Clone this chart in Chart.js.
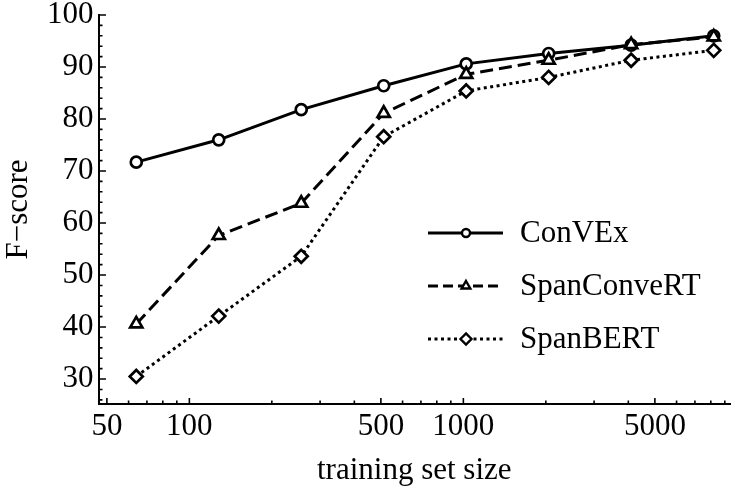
<!DOCTYPE html>
<html>
<head>
<meta charset="utf-8">
<title>F-score vs training set size</title>
<script src="https://cdn.jsdelivr.net/npm/chart.js@4"></script>
<style>
  html, body { margin: 0; padding: 0; background: #fff; }
  #wrap { width: 731px; height: 489px; }
</style>
</head>
<body>
<div id="wrap"><canvas id="fscoreChart" width="731" height="489"></canvas></div>
<script>
// Data
const trainSizes = [64, 128, 256, 512, 1024, 2048, 4096, 8198];
const convexScores = [71.7, 76.0, 81.8, 86.4, 90.6, 92.6, 94.2, 96.0];
const spanConvertScores = [40.6, 57.6, 63.8, 81.1, 88.6, 91.3, 94.3, 95.8];
const spanBertScores = [30.5, 42.1, 53.6, 76.6, 85.4, 88.0, 91.3, 93.2];

const seriesNames = ['ConVEx', 'SpanConveRT', 'SpanBERT'];

// Axis ticks
const xMajorTicks = [50, 100, 500, 1000, 5000];
const xMinorTicks = [60, 70, 80, 90, 200, 300, 400, 600, 700, 800, 900,
  2000, 3000, 4000, 6000, 7000, 8000, 9000];
const yMajorTicks = [30, 40, 50, 60, 70, 80, 90, 100];
const yMinorTicks = [26, 28, 32, 34, 36, 38, 42, 44, 46, 48, 52, 54, 56, 58,
  62, 64, 66, 68, 72, 74, 76, 78, 82, 84, 86, 88, 92, 94, 96, 98];

const FONT = "'Liberation Serif', 'DejaVu Serif', serif";
const INK = '#000';

function toPoints(values) {
  return trainSizes.map((x, i) => ({ x: x, y: values[i] }));
}

// Inward ticks (Mathematica style) drawn from the chart scales
const inwardTicks = {
  id: 'inwardTicks',
  afterDraw(chart) {
    const ctx = chart.ctx;
    const xs = chart.scales.x;
    const ys = chart.scales.y;
    const left = chart.chartArea.left;
    const bottom = chart.chartArea.bottom;
    ctx.save();
    ctx.strokeStyle = INK;
    ctx.lineWidth = 1.6;
    ctx.beginPath();
    yMajorTicks.forEach(v => {
      const y = ys.getPixelForValue(v);
      ctx.moveTo(left, y); ctx.lineTo(left + 7.5, y);
    });
    yMinorTicks.forEach(v => {
      const y = ys.getPixelForValue(v);
      ctx.moveTo(left, y); ctx.lineTo(left + 4, y);
    });
    xMajorTicks.forEach(v => {
      const x = xs.getPixelForValue(v);
      ctx.moveTo(x, bottom); ctx.lineTo(x, bottom - 6);
    });
    xMinorTicks.forEach(v => {
      const x = xs.getPixelForValue(v);
      ctx.moveTo(x, bottom); ctx.lineTo(x, bottom - 3.5);
    });
    ctx.stroke();
    ctx.restore();
  }
};

// Legend: line sample with marker, then label
const lineLegend = {
  id: 'lineLegend',
  afterDraw(chart) {
    const ctx = chart.ctx;
    const rows = [233, 286, 339];
    const x0 = 428, x1 = 503, xm = 466, xt = 520;
    ctx.save();
    chart.data.datasets.forEach((ds, i) => {
      const y = rows[i];
      ctx.strokeStyle = INK;
      ctx.lineWidth = 3;
      ctx.setLineDash(ds.legendDash || []);
      ctx.beginPath();
      ctx.moveTo(x0, y); ctx.lineTo(x1, y);
      ctx.stroke();
      ctx.setLineDash([]);
      ctx.fillStyle = '#fff';
      ctx.lineWidth = 2.4;
      Chart.helpers.drawPoint(ctx, {
        pointStyle: ds.pointStyle,
        radius: ds.legendRadius,
        borderWidth: 2.4
      }, xm, y);
      ctx.fillStyle = INK;
      ctx.font = '31px ' + FONT;
      ctx.textAlign = 'left';
      ctx.textBaseline = 'middle';
      ctx.fillText(ds.label, xt, y + 1);
    });
    ctx.restore();
  }
};

const ctx = document.getElementById('fscoreChart').getContext('2d');

new Chart(ctx, {
  type: 'line',
  data: {
    datasets: [
      {
        label: seriesNames[0],
        data: toPoints(convexScores),
        borderColor: INK,
        borderWidth: 3,
        pointStyle: 'circle',
        pointRadius: 5.5,
        pointBorderWidth: 2.7,
        pointBackgroundColor: '#fff',
        pointBorderColor: INK,
        legendRadius: 4,
        order: 3
      },
      {
        label: seriesNames[1],
        data: toPoints(spanConvertScores),
        borderColor: INK,
        borderWidth: 3,
        borderDash: [13, 6],
        legendDash: [10, 5],
        pointStyle: 'triangle',
        pointRadius: 7,
        pointBorderWidth: 2.7,
        pointBackgroundColor: '#fff',
        pointBorderColor: INK,
        legendRadius: 5,
        order: 1
      },
      {
        label: seriesNames[2],
        data: toPoints(spanBertScores),
        borderColor: INK,
        borderWidth: 3,
        borderDash: [3, 3.5],
        legendDash: [3, 3.5],
        pointStyle: 'rectRot',
        pointRadius: 6.5,
        pointBorderWidth: 2.7,
        pointBackgroundColor: '#fff',
        pointBorderColor: INK,
        legendRadius: 5.5,
        order: 2
      }
    ]
  },
  options: {
    responsive: false,
    animation: false,
    // no extra room for the big markers, the plot runs to the canvas edge
    layout: { autoPadding: false, padding: { top: 15, right: 1, left: 0, bottom: 0 } },
    plugins: {
      legend: { display: false },
      tooltip: { enabled: false }
    },
    scales: {
      x: {
        type: 'logarithmic',
        min: 46.6,
        max: 9400,
        afterBuildTicks: scale => {
          scale.ticks = xMajorTicks.map(v => ({ value: v }));
        },
        afterFit: scale => {
          scale.height = 85;
          scale.paddingLeft = 0;
          scale.paddingRight = 0;
        },
        grid: { drawOnChartArea: false, drawTicks: false, color: 'transparent' },
        border: { display: true, color: INK, width: 2 },
        ticks: {
          color: INK,
          padding: 4,
          maxRotation: 0,
          autoSkip: false,
          font: { family: FONT, size: 31 },
          callback: v => String(v)
        },
        title: {
          display: true,
          text: 'training set size',
          color: INK,
          font: { family: FONT, size: 31 },
          padding: { top: 0, bottom: 0 }
        }
      },
      y: {
        min: 25.2,
        max: 100,
        afterBuildTicks: scale => {
          scale.ticks = yMajorTicks.map(v => ({ value: v }));
        },
        afterFit: scale => {
          scale.width = 98.5;
          scale.paddingTop = 0;
          scale.paddingBottom = 0;
        },
        grid: { drawOnChartArea: false, drawTicks: false, color: 'transparent' },
        border: { display: true, color: INK, width: 2 },
        ticks: {
          color: INK,
          padding: 5,
          font: { family: FONT, size: 31 },
          callback: v => String(v)
        },
        title: {
          display: true,
          text: 'F\u2212score',
          color: INK,
          font: { family: FONT, size: 31 },
          padding: { top: 0, bottom: 0 }
        }
      }
    }
  },
  plugins: [inwardTicks, lineLegend]
});
</script>
</body>
</html>
